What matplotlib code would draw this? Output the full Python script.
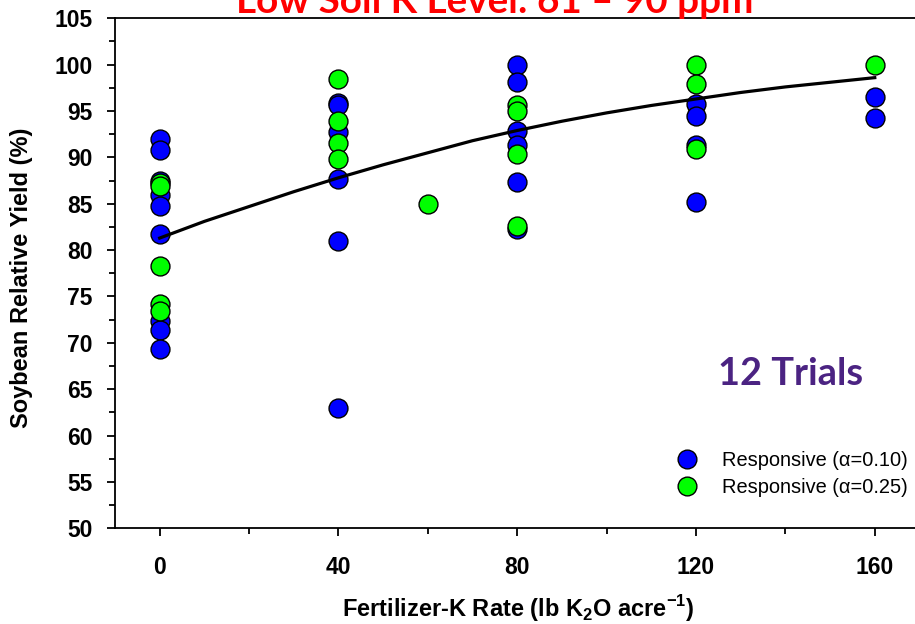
import numpy as np
import matplotlib
matplotlib.use("Agg")
import matplotlib.pyplot as plt
from matplotlib.lines import Line2D
from matplotlib.ticker import MultipleLocator

plt.rcParams.update({
    "mathtext.fontset": "custom",
    "mathtext.rm": "Liberation Sans",
    "mathtext.bf": "Liberation Sans:bold",
})

# ---------------------------------------------------------------------------
# data
# ---------------------------------------------------------------------------
# responsive trials, alpha = 0.10 (blue)
blue_rate = [0, 0, 0, 0, 0, 0, 0, 0, 0,
             40, 40, 40, 40, 40, 40,
             80, 80, 80, 80, 80, 80,
             120, 120, 120, 120,
             160, 160]
blue_yield = [92.0, 90.8, 87.5, 85.9, 84.8, 81.7, 72.4, 71.4, 69.3,
              95.9, 95.6, 92.7, 87.7, 81.0, 63.0,
              100.0, 98.1, 92.9, 91.3, 87.4, 82.3,
              95.8, 94.5, 91.3, 85.2,
              96.5, 94.2]

# responsive trials, alpha = 0.25 (green)
green_rate = [0, 0, 0, 0, 0,
              40, 40, 40, 40,
              60,
              80, 80, 80, 80,
              120, 120, 120,
              160]
green_yield = [87.2, 86.9, 78.3, 74.2, 73.4,
               98.5, 93.9, 91.6, 89.8,
               85.0,
               95.6, 95.0, 90.4, 82.6,
               100.0, 97.9, 90.9,
               100.0]

# fitted response curve, read every 10 lb
curve_rate = [0, 10, 20, 30, 40, 50, 60, 70, 80, 90, 100, 110, 120, 130, 140, 150, 160]
curve_yield = [81.3, 83.1, 84.7, 86.3, 87.8, 89.2, 90.5, 91.8, 92.9, 93.9,
               94.8, 95.6, 96.3, 97.0, 97.6, 98.1, 98.6]

x_ticks = [0, 40, 80, 120, 160]
y_ticks = list(range(50, 106, 5))

# ---------------------------------------------------------------------------
W, H, DPI = 915, 624, 100
fig = plt.figure(figsize=(W / DPI, H / DPI), dpi=DPI)
ax = fig.add_axes([115 / W, 1 - 528.3 / H, 1 - 115 / W, (528.3 - 18.3) / H])

mk = dict(s=185, edgecolors="black", linewidths=1.0, zorder=3)
ax.scatter(blue_rate, blue_yield, c="#0000FF", **mk)
ax.scatter(green_rate, green_yield, c="#00FF00", **mk)
ax.plot(curve_rate, curve_yield, color="black", lw=2.3, zorder=4,
        solid_joinstyle="round")

ax.set_xlim(-10, 169)
ax.set_ylim(50, 105)
ax.set_xticks(x_ticks)
ax.set_yticks(y_ticks)
ax.xaxis.set_minor_locator(MultipleLocator(20))
ax.yaxis.set_minor_locator(MultipleLocator(2.5))
ax.spines["right"].set_visible(False)
for sp in ax.spines.values():
    sp.set_linewidth(1.3)

tick_font = dict(family="Liberation Sans", weight="bold", size=16.5)
ax.set_xticklabels([str(v) for v in x_ticks], **tick_font)
ax.set_yticklabels([str(v) for v in y_ticks], **tick_font)
ax.tick_params(axis="x", which="major", direction="out", length=6, width=1.3, pad=14)
ax.tick_params(axis="x", which="minor", direction="out", length=4, width=1.3)
ax.tick_params(axis="y", which="major", direction="out", length=6, width=1.3, pad=10)
ax.tick_params(axis="y", which="minor", direction="out", length=4, width=1.3)

fig.text(22 / W, 1 - 278 / H, "Soybean Relative Yield (%)", rotation=90,
         ha="center", va="center", family="Liberation Sans", weight="bold", size=17)
fig.text(518 / W, 1 - 609 / H, r"Fertilizer-K Rate (lb K$_\mathbf{2}$O acre$^\mathbf{-1}$)",
         ha="center", va="center", family="Liberation Sans", weight="bold", size=17)

fig.text(495 / W, 1 - 13 / H, "Low Soil K Level: 61 \u2013 90 ppm",
         ha="center", va="baseline", family="Lato", weight="bold", size=27.8,
         color="#FF0000")
fig.text(791 / W, 1 - 374 / H, "12 Trials", ha="center", va="center",
         family="Lato", weight="bold", size=27.3, color="#4B2382")

handles = [
    Line2D([], [], ls="none", marker="o", markersize=13.5, markerfacecolor="#0000FF",
           markeredgecolor="black", markeredgewidth=1.0, label="Responsive (\u03b1=0.10)"),
    Line2D([], [], ls="none", marker="o", markersize=13.5, markerfacecolor="#00FF00",
           markeredgecolor="black", markeredgewidth=1.0, label="Responsive (\u03b1=0.25)"),
]
fig.legend(handles=handles, loc="upper left", bbox_to_anchor=(677 / W, 1 - 451 / H),
           frameon=False, borderpad=0, borderaxespad=0, handlelength=1.0,
           handletextpad=1.25, labelspacing=0.42,
           prop=dict(family="Liberation Sans", size=14.4))

fig.savefig("out.png", dpi=DPI)
